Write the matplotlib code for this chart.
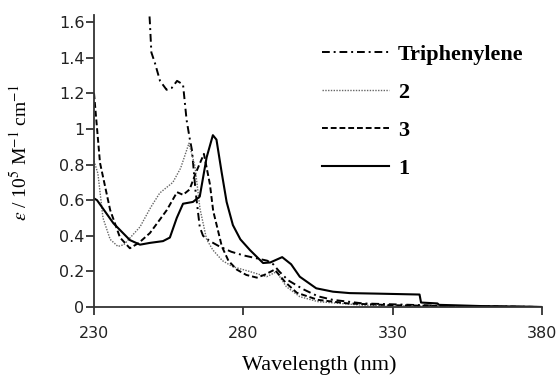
import matplotlib.pyplot as plt
from matplotlib.ticker import FuncFormatter

# wavelengths (nm) and epsilon (10^5 M-1 cm-1)
wl_tri = [245, 248, 248.7, 249.2, 250.4, 252.1, 254.3, 256, 257.8, 259.8, 261, 262, 262.8,
          264, 265.4, 266.5, 268.8, 272, 276, 280, 284, 288, 290, 292, 295, 300, 305,
          310, 320, 330, 340, 350, 380]
eps_tri = [2.2, 1.8, 1.6, 1.43, 1.37, 1.27, 1.22, 1.23, 1.27, 1.25, 1.05, 0.95, 0.88,
           0.65, 0.45, 0.40, 0.37, 0.34, 0.31, 0.29, 0.275, 0.26, 0.24, 0.2, 0.15, 0.1,
           0.06, 0.04, 0.02, 0.015, 0.01, 0.005, 0.0]

wl_2 = [230, 231.3, 233, 235.4, 238, 240, 245.4, 249, 252, 256.4, 259, 261.8, 263.8,
        265.5, 267.7, 269.8, 273, 276.5, 282, 287.8, 291.1, 294.4, 298.9, 305, 320,
        340, 380]
eps_2 = [0.82, 0.75, 0.5, 0.38, 0.34, 0.35, 0.45, 0.56, 0.64, 0.70, 0.78, 0.92, 0.79,
         0.55, 0.38, 0.32, 0.26, 0.226, 0.2, 0.17, 0.198, 0.114, 0.058, 0.03, 0.01,
         0.005, 0.0]

wl_3 = [230, 232, 235.4, 238.7, 242, 245, 248.7, 252, 254.4, 257.8, 259.8, 262, 264,
        266.8, 268.8, 269.9, 271.5, 272.8, 275, 277.8, 281, 284.5, 287, 290.5, 294,
        297.9, 305, 315, 330, 350, 380]
eps_3 = [1.2, 0.81, 0.545, 0.39, 0.33, 0.36, 0.415, 0.49, 0.545, 0.645, 0.63, 0.66,
         0.75, 0.86, 0.69, 0.54, 0.43, 0.34, 0.26, 0.21, 0.18, 0.165, 0.18, 0.21, 0.14,
         0.08, 0.04, 0.02, 0.01, 0.005, 0.0]

wl_1 = [230, 231, 236.5, 242, 245.4, 248.7, 253.1, 255.4, 257.7, 259.8, 263.1, 265.4,
        267.7, 269.8, 271, 272.7, 274.4, 276.5, 279, 282.2, 286.6, 289, 293, 296,
        298.9, 304.4, 310, 315.6, 325, 339, 339.5, 345, 345.5, 350, 360, 375, 380]
eps_1 = [0.61, 0.6, 0.47, 0.376, 0.35, 0.36, 0.37, 0.39, 0.5, 0.58, 0.59, 0.62, 0.84,
         0.965, 0.94, 0.76, 0.59, 0.46, 0.38, 0.32, 0.247, 0.25, 0.28, 0.24, 0.17,
         0.105, 0.086, 0.078, 0.075, 0.07, 0.025, 0.02, 0.012, 0.01, 0.005, 0.002, 0.0]

plt.rcParams['mathtext.fontset'] = 'stix'

fig = plt.figure(figsize=(5.58, 3.77), dpi=100)
ax = fig.add_axes([0.1685, 0.1857, 0.8028, 0.7745])

ax.plot(wl_tri, eps_tri, color='black', lw=1.4, ls=(0, (4, 2, 1, 2)), label='Triphenylene')
ax.plot(wl_2, eps_2, color='#666666', lw=1.0, ls=(0, (1, 1)), label='2')
ax.plot(wl_3, eps_3, color='black', lw=1.4, ls=(0, (3, 1.5)), label='3')
ax.plot(wl_1, eps_1, color='black', lw=1.5, ls='-', label='1')

ax.set_xlim(230, 380)
ax.set_ylim(0, 1.64)
ax.set_xticks([230, 280, 330, 380])
ax.set_yticks([0, 0.2, 0.4, 0.6, 0.8, 1.0, 1.2, 1.4, 1.6])
ax.yaxis.set_major_formatter(FuncFormatter(lambda v, p: '%g' % round(v, 1)))

for s in ['top', 'right']:
    ax.spines[s].set_visible(False)
for s in ['left', 'bottom']:
    ax.spines[s].set_color('#333333')
    ax.spines[s].set_linewidth(1.3)

ax.tick_params(axis='both', direction='out', length=6, width=1.3, color='#333333',
               labelsize=11.5, labelcolor='#222222')
ax.tick_params(axis='x', pad=8)
ax.tick_params(axis='y', pad=1)

ax.set_xlabel('Wavelength (nm)', family='Liberation Serif', fontsize=16)
ax.xaxis.set_label_coords(0.503, -0.165)
ax.set_ylabel(r'$\varepsilon$ / 10$^5$ M$^{-1}$ cm$^{-1}$', family='Liberation Serif',
              fontsize=14)
ax.yaxis.set_label_coords(-0.14, 0.527)

leg = ax.legend(loc='upper left', bbox_to_anchor=(0.509, 0.90), frameon=False,
                borderpad=0, borderaxespad=0, handlelength=3.0, handletextpad=0.42,
                labelspacing=0.79, prop={'family': 'Liberation Serif', 'weight': 'bold',
                                         'size': 16})

fig.savefig('out.png', dpi=100)
